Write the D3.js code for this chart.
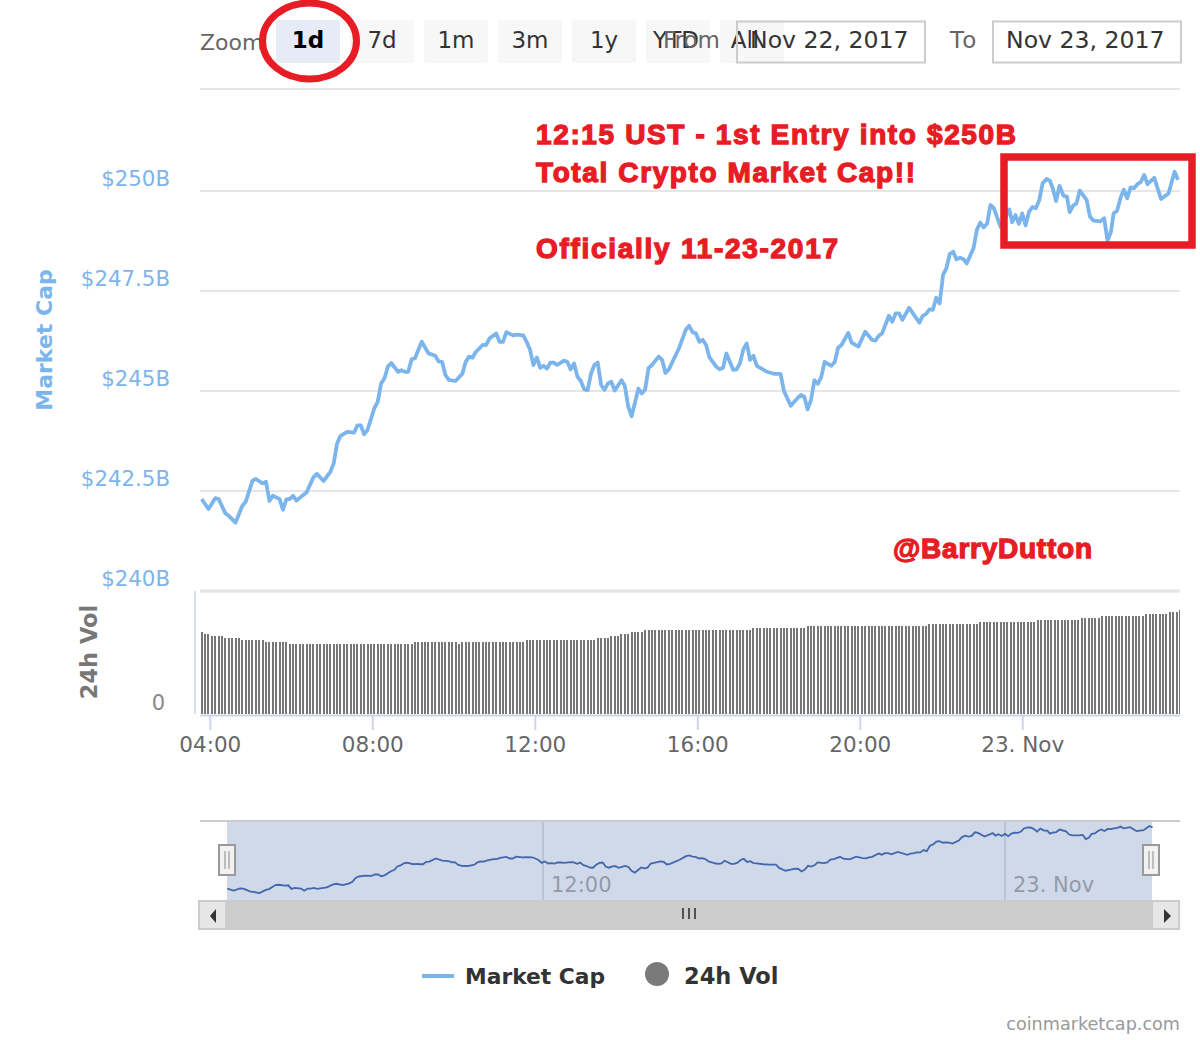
<!DOCTYPE html>
<html>
<head>
<meta charset="utf-8">
<script src="https://d3js.org/d3.v7.min.js"></script>
<style>
  html, body { margin: 0; padding: 0; background: #fff; }
  text { font-family: "DejaVu Sans", sans-serif; }
</style>
</head>
<body>
<svg id="chart" width="1200" height="1040"></svg>
<script>
// Minutes after the first sample (03:48 on 22 Nov 2017)
const capMinutes = [
  0,10,20,25,35,40,50,60,65,75,
  80,90,95,100,105,115,120,125,130,135,
  140,155,165,170,180,190,195,200,205,215,
  225,230,235,240,245,255,260,265,270,275,
  280,290,295,300,305,310,315,325,335,345,
  350,355,360,365,375,385,390,395,400,405,
  415,420,425,435,440,445,450,460,465,475,
  480,485,490,495,500,505,510,515,520,525,
  535,540,545,550,555,560,565,570,575,580,
  585,590,595,600,605,610,620,625,630,635,
  645,650,655,660,665,675,680,685,690,705,
  715,720,725,730,735,740,745,750,760,765,
  770,775,785,790,795,800,805,810,815,820,
  825,835,845,855,860,870,880,885,890,895,
  900,905,910,915,920,930,935,940,945,955,
  960,970,980,990,995,1000,1005,1015,1020,1025,
  1030,1035,1045,1060,1065,1070,1075,1080,1085,1090,
  1095,1100,1105,1110,1115,1120,1125,1130,1140,1145,
  1150,1155,1160,1165,1170,1180,1193,1197,1202,1207,
  1212,1217,1222,1227,1232,1237,1242,1248,1253,1257,
  1262,1267,1273,1278,1282,1287,1292,1297,1307,1312,
  1317,1327,1333,1338,1343,1347,1352,1357,1362,1367,
  1372,1377,1382,1387,1392,1397,1407,1417,1428,1437,1442
];

// Market cap in billions of dollars
const capValues = [
  242.30,242.05,242.32,242.30,241.94,241.88,241.71,242.13,242.23,242.76,
  242.80,242.69,242.73,242.25,242.38,242.30,242.03,242.29,242.30,242.38,
  242.26,242.47,242.84,242.93,242.75,242.98,243.19,243.69,243.88,243.98,
  243.96,244.14,244.14,243.92,244.03,244.57,244.73,245.19,245.32,245.61,
  245.70,245.48,245.52,245.48,245.48,245.79,245.82,246.23,245.94,245.88,
  245.74,245.73,245.40,245.28,245.25,245.43,245.73,245.86,245.83,245.98,
  246.15,246.15,246.31,246.44,246.23,246.23,246.47,246.39,246.41,246.39,
  246.23,246.03,245.65,245.84,245.58,245.63,245.56,245.71,245.71,245.65,
  245.76,245.73,245.54,245.69,245.36,245.25,245.04,245.02,245.43,245.65,
  245.71,245.15,245.03,245.19,245.23,245.01,245.27,245.13,244.61,244.37,
  245.06,244.94,245.04,245.57,245.65,245.86,245.78,245.45,245.54,246.07,
  246.53,246.63,246.47,246.44,246.23,246.28,246.15,245.84,245.61,245.54,
  245.58,245.94,245.53,245.54,245.69,246.04,246.19,245.78,245.88,245.63,
  245.58,245.48,245.43,245.43,245.00,244.63,244.82,244.90,244.86,244.54,
  244.78,245.27,245.18,245.34,245.73,245.63,245.72,246.08,246.15,246.45,
  246.21,246.11,246.48,246.28,246.26,246.38,246.44,246.88,246.73,246.94,
  246.94,246.78,247.08,246.71,246.88,246.93,247.04,247.03,247.33,247.19,
  247.90,248.07,248.43,248.48,248.29,248.33,248.30,248.19,248.57,249.03,
  249.21,249.09,249.18,249.65,249.57,249.10,249.54,249.22,249.40,249.18,
  249.44,249.14,249.48,249.60,249.57,249.76,250.19,250.30,250.25,250.07,
  249.75,250.13,249.88,249.86,249.47,249.63,249.69,250.01,249.78,249.36,
  249.26,249.24,249.32,248.76,248.98,249.44,249.50,249.82,250.03,249.82,
  250.09,250.07,250.17,250.22,250.40,250.17,250.33,249.80,249.94,250.48,250.28
];

// 24h volume, one bar every 5 minutes (axis has no scale, so read as relative height)
const volValues = [
  8.2, 8.0,8.0, 7.8,7.8,7.8,7.8, 7.6,7.6,7.6,7.6,7.6,
  7.4,7.4,7.4,7.4,7.4,7.4,7.4, 7.2,7.2,7.2,7.2,7.2,7.2,7.2,
  7.0,7.0,7.0,7.0,7.0,7.0,7.0,7.0,7.0,7.0,7.0,7.0,7.0,7.0,7.0,7.0,7.0,7.0,7.0,
  7.0,7.0,7.0,7.0,7.0,7.0,7.0,7.0,7.0,7.0,7.0,7.0,7.0,7.0,7.0,7.0,7.0,7.0,
  7.2,7.2,7.2,7.2,7.2,7.2,7.2,7.2,7.2,7.2,7.2,7.2,7.2, 7.0,
  7.2,7.2,7.2,7.2,7.2,7.2,7.2,7.2,7.2,7.2,7.2,7.2,7.2,7.2,7.2,7.2,7.2,7.2,7.2,
  7.4,7.4,7.4,7.4,7.4,7.4,7.4,7.4,7.4,7.4,7.4,7.4,7.4,7.4,7.4,7.4,7.4,7.4,7.4,7.4,7.4,
  7.6,7.6,7.6,7.6, 7.8,7.8,7.8, 8.0,8.0,8.0, 8.2,8.2,8.2,8.2,
  8.4,8.4,8.4,8.4,8.4,8.4,8.4,8.4,8.4,8.4,8.4,8.4,8.4,8.4,8.4,8.4,
  8.4,8.4,8.4,8.4,8.4,8.4,8.4,8.4,8.4,8.4,8.4,8.4,8.4,8.4,8.4,8.4,
  8.6,8.6,8.6,8.6,8.6,8.6,8.6,8.6,8.6,8.6,8.6,8.6,8.6,8.6,8.6,8.6,
  8.8,8.8,8.8,8.8,8.8,8.8,8.8,8.8,8.8,8.8,8.8,8.8,8.8,8.8,8.8,8.8,8.8,8.8,
  8.8,8.8,8.8,8.8,8.8,8.8,8.8,8.8,8.8,8.8,8.8,8.8,8.8,8.8,8.8,8.8,8.8,8.8,
  9.0,9.0,9.0,9.0,9.0,9.0,9.0,9.0,9.0,9.0,9.0,9.0,9.0,9.0,9.0,
  9.2,9.2,9.2,9.2,9.2,9.2,9.2,9.2,9.2,9.2,9.2,9.2,9.2,9.2,9.2,9.2,9.2,
  9.4,9.4,9.4,9.4,9.4,9.4,9.4,9.4,9.4,9.4,9.4,9.4,9.4,
  9.6,9.6,9.6,9.6,9.6,9.6,
  9.8,9.8,9.8,9.8,9.8,9.8,9.8,9.8,9.8,9.8,9.8,9.8,9.8,
  10.0,10.0,10.0,10.0,10.0,10.0,10.0, 10.2,10.2,10.2, 10.4
];

const capTicks = [250, 247.5, 245, 242.5, 240];
const capTickLabels = ["$250B", "$247.5B", "$245B", "$242.5B", "$240B"];
const timeTicks = [4, 8, 12, 16, 20, 24];
const timeTickLabels = ["04:00", "08:00", "12:00", "16:00", "20:00", "23. Nov"];
const navTicks = [12, 24];
const navTickLabels = ["12:00", "23. Nov"];
const zoomButtons = ["1d", "7d", "1m", "3m", "1y", "YTD", "All"];
const zoomLabelShift = [0, 0, 0, 0, 0, -2, -7];

const BLUE = "#7cb5ec";
const RED = "#e81c24";

// Time helpers
function hourDate(h) {
  return new Date(Date.UTC(2017, 10, 22, h));
}
function sampleDate(m) {
  return new Date(Date.UTC(2017, 10, 22, 3, 48 + m));
}

const svg = d3.select("#chart");

// Scales
const x = d3.scaleUtc()
  .domain([new Date(Date.UTC(2017, 10, 22, 3, 45, 30)), new Date(Date.UTC(2017, 10, 23, 3, 53))])
  .range([200, 1180]);
const y = d3.scaleLinear().domain([240, 250]).range([591, 191]);
const yVol = d3.scaleLinear().domain([0, 12.4]).range([714, 590]);
const xNav = d3.scaleUtc().domain([hourDate(12), hourDate(24)]).range([543, 1005]);
const yNav = d3.scaleLinear().domain([241.2, 251]).range([897, 822]);

// Range selector row
let selector = svg.append("g");
selector.append("text").attr("x", 200).attr("y", 50)
  .attr("font-size", 22).attr("fill", "#666").text("Zoom");
zoomButtons.forEach((label, i) => {
  let bx = 276 + i * 74;
  selector.append("rect").attr("x", bx).attr("y", 20).attr("width", 64).attr("height", 43).attr("rx", 3)
    .attr("fill", i == 0 ? "#e6ebf5" : "#f7f7f7");
  selector.append("text").attr("x", bx + 32 + zoomLabelShift[i]).attr("y", 48).attr("text-anchor", "middle")
    .attr("font-size", 23).attr("font-weight", i == 0 ? "bold" : "normal")
    .attr("fill", i == 0 ? "#000" : "#333").text(label);
});
selector.append("text").attr("x", 663).attr("y", 48).attr("font-size", 23).attr("fill", "#666").text("From");
selector.append("text").attr("x", 950).attr("y", 48).attr("font-size", 23).attr("letter-spacing", 2)
  .attr("fill", "#666").text("To");
[[737, "Nov 22, 2017"], [993, "Nov 23, 2017"]].forEach(([bx, label]) => {
  selector.append("rect").attr("x", bx).attr("y", 21.5).attr("width", 188).attr("height", 41)
    .attr("fill", "none").attr("stroke", "#ccc").attr("stroke-width", 2);
  selector.append("text").attr("x", bx + 13).attr("y", 48)
    .attr("font-size", 23.6).attr("fill", "#333").text(label);
});
svg.append("line").attr("x1", 200).attr("x2", 1180).attr("y1", 89).attr("y2", 89)
  .attr("stroke", "#e6e6e6").attr("stroke-width", 2);

// Market cap axis and grid
let capAxis = svg.append("g").attr("transform", "translate(170,0)")
  .call(d3.axisLeft(y).tickValues(capTicks).tickSize(0).tickPadding(0)
    .tickFormat((d, i) => capTickLabels[i]));
capAxis.select(".domain").remove();
capAxis.selectAll("text").attr("dy", "-5.5").attr("font-size", 21.3).attr("fill", BLUE)
  .style("font-family", "'DejaVu Sans'");
svg.append("g").selectAll("line").data(capTicks).join("line")
  .attr("x1", 200).attr("x2", 1180)
  .attr("y1", d => y(d)).attr("y2", d => y(d))
  .attr("stroke", "#e6e6e6").attr("stroke-width", d => d == 240 ? 3.5 : 2);

svg.append("text").attr("transform", "translate(52,340) rotate(-90)")
  .attr("text-anchor", "middle").attr("font-size", 22).attr("font-weight", "bold")
  .attr("fill", BLUE).text("Market Cap");
svg.append("text").attr("transform", "translate(97,652) rotate(-90)")
  .attr("text-anchor", "middle").attr("font-size", 22.5).attr("font-weight", "bold")
  .attr("fill", "#777").text("24h Vol");
svg.append("text").attr("x", 165).attr("y", 710).attr("text-anchor", "end")
  .attr("font-size", 21).attr("fill", "#888").text("0");

// Volume bars
svg.append("line").attr("x1", 195).attr("x2", 195).attr("y1", 591).attr("y2", 714)
  .attr("stroke", "#d8dfee").attr("stroke-width", 2);
svg.append("g")
  .selectAll("rect").data(volValues).join("rect")
  .attr("x", (d, i) => Math.round(x(sampleDate(i * 5)) - 1))
  .attr("width", (d, i) => Math.min(2, 1180 - Math.round(x(sampleDate(i * 5)) - 1)))
  .attr("y", d => yVol(d))
  .attr("height", d => yVol(0) - yVol(d))
  .attr("fill", "#777");

// Time axis
let timeAxis = svg.append("g").attr("transform", "translate(0,715)")
  .call(d3.axisBottom(x).tickValues(timeTicks.map(hourDate)).tickSizeInner(15).tickSizeOuter(0).tickPadding(7)
    .tickFormat((d, i) => timeTickLabels[i]));
timeAxis.select(".domain").attr("stroke", "#ccd6eb").attr("stroke-width", 2);
timeAxis.selectAll("line").attr("stroke", "#ccd6eb").attr("stroke-width", 2);
timeAxis.selectAll("text").attr("font-size", 21.5).attr("fill", "#666")
  .style("font-family", "'DejaVu Sans'");

// Market cap line
const capLine = d3.line().x((d, i) => x(sampleDate(capMinutes[i]))).y(d => y(d));
svg.append("path").datum(capValues)
  .attr("fill", "none").attr("stroke", BLUE).attr("stroke-width", 3.8)
  .attr("stroke-linejoin", "round").attr("d", capLine);

// Navigator
svg.append("line").attr("x1", 200).attr("x2", 1180).attr("y1", 821).attr("y2", 821)
  .attr("stroke", "#ccc").attr("stroke-width", 2);
svg.append("rect").attr("x", 227).attr("y", 822).attr("width", 925).attr("height", 78)
  .attr("fill", "#cfd9ea");
svg.append("g").selectAll("line").data(navTicks).join("line")
  .attr("x1", d => xNav(hourDate(d))).attr("x2", d => xNav(hourDate(d)))
  .attr("y1", 822).attr("y2", 900)
  .attr("stroke", "#b9c4d8").attr("stroke-width", 2);
svg.append("g").selectAll("text").data(navTicks).join("text")
  .attr("x", d => xNav(hourDate(d)) + 8).attr("y", 892)
  .attr("font-size", 21).attr("fill", "#949aa6")
  .text((d, i) => navTickLabels[i]);
const navLine = d3.line().x((d, i) => xNav(sampleDate(capMinutes[i]))).y(d => yNav(d));
svg.append("path").datum(capValues)
  .attr("fill", "none").attr("stroke", "#4267ab").attr("stroke-width", 1.8)
  .attr("d", navLine);

// Navigator handles
[219, 1143].forEach(hx => {
  svg.append("rect").attr("x", hx).attr("y", 845).attr("width", 16).attr("height", 30)
    .attr("fill", "#f2f2f2").attr("stroke", "#999").attr("stroke-width", 2);
  [hx + 6, hx + 10].forEach(gx => {
    svg.append("line").attr("x1", gx).attr("x2", gx).attr("y1", 851).attr("y2", 869)
      .attr("stroke", "#999").attr("stroke-width", 1.2);
  });
});

// Scrollbar
svg.append("rect").attr("x", 199).attr("y", 900).attr("width", 981).attr("height", 30).attr("fill", "#cccccc");
svg.append("rect").attr("x", 199).attr("y", 901).attr("width", 27).attr("height", 28)
  .attr("fill", "#e6e6e6").attr("stroke", "#ccc").attr("stroke-width", 2);
svg.append("rect").attr("x", 1152).attr("y", 901).attr("width", 27).attr("height", 28)
  .attr("fill", "#e6e6e6").attr("stroke", "#ccc").attr("stroke-width", 2);
svg.append("path").attr("d", "M216,909 L216,923 L210,916 Z").attr("fill", "#333");
svg.append("path").attr("d", "M1164,909 L1164,923 L1171,916 Z").attr("fill", "#333");
[683, 689, 695].forEach(gx => {
  svg.append("line").attr("x1", gx).attr("x2", gx).attr("y1", 908).attr("y2", 919)
    .attr("stroke", "#333").attr("stroke-width", 1.6);
});

// Legend
svg.append("line").attr("x1", 422).attr("x2", 454).attr("y1", 976).attr("y2", 976)
  .attr("stroke", BLUE).attr("stroke-width", 4);
svg.append("text").attr("x", 465).attr("y", 984).attr("font-size", 21.8).attr("font-weight", "bold")
  .attr("fill", "#333").text("Market Cap");
svg.append("circle").attr("cx", 657).attr("cy", 974).attr("r", 12).attr("fill", "#7a7a7a");
svg.append("text").attr("x", 684).attr("y", 984).attr("font-size", 22.5).attr("font-weight", "bold")
  .attr("fill", "#333").text("24h Vol");
svg.append("text").attr("x", 1180).attr("y", 1030).attr("text-anchor", "end")
  .attr("font-size", 17.6).attr("fill", "#999").text("coinmarketcap.com");

// Red notes drawn on top of the chart
const notes = [
  ["12:15 UST - 1st Entry into $250B", 536, 144, 480],
  ["Total Crypto Market Cap!!", 536, 182, 379],
  ["Officially 11-23-2017", 536, 258, 302],
  ["@BarryDutton", 893, 558, 199]
];
notes.forEach(([label, nx, ny, len]) => {
  svg.append("text").attr("x", nx).attr("y", ny)
    .attr("textLength", len).attr("lengthAdjust", "spacing")
    .style("font-family", "'Liberation Sans'").attr("font-size", 28).attr("font-weight", "bold")
    .attr("fill", RED).attr("stroke", RED).attr("stroke-width", 1.3).text(label);
});
svg.append("ellipse").attr("cx", 309.5).attr("cy", 41).attr("rx", 47).attr("ry", 38)
  .attr("fill", "none").attr("stroke", RED).attr("stroke-width", 7);
svg.append("rect").attr("x", 1004).attr("y", 157).attr("width", 188).attr("height", 88)
  .attr("fill", "none").attr("stroke", RED).attr("stroke-width", 7.5);
</script>
</body>
</html>
